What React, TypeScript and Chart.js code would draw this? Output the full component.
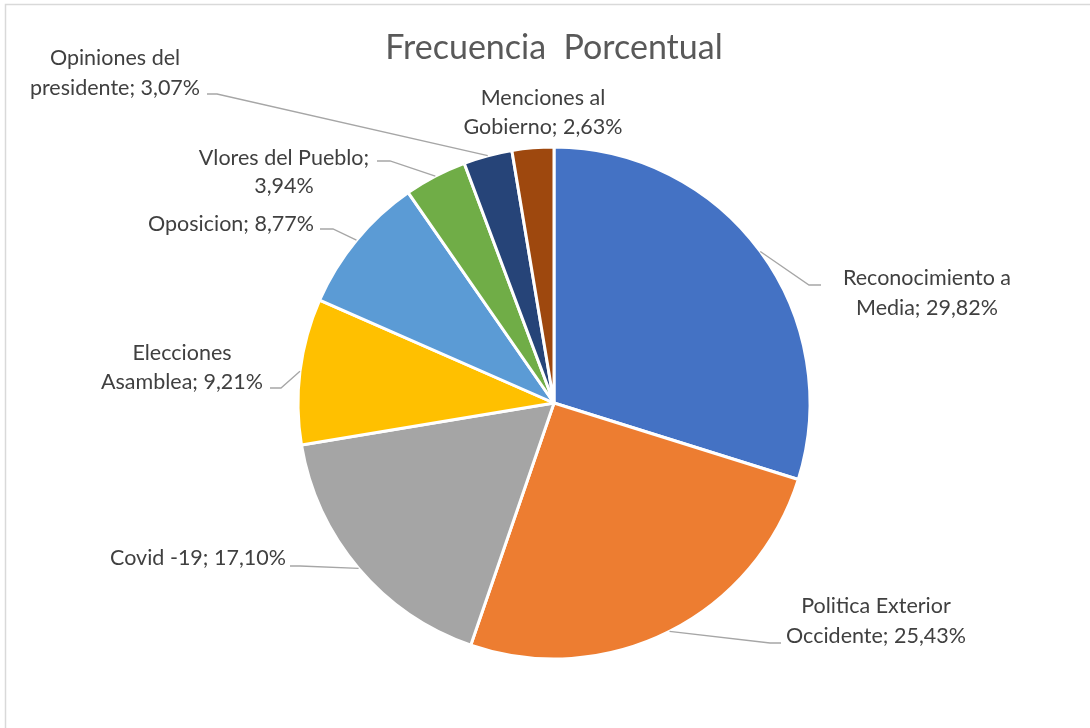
import React, { useEffect, useRef } from "react";
import { Chart, registerables } from "chart.js";

Chart.register(...registerables);

const categories: string[][] = [
  ["Reconocimiento a", "Media"],
  ["Politica Exterior", "Occidente"],
  ["Covid -19"],
  ["Elecciones", "Asamblea"],
  ["Oposicion"],
  ["Vlores del Pueblo;", ""],
  ["Opiniones del", "presidente"],
  ["Menciones al", "Gobierno"],
];
const values: number[] = [29.82, 25.43, 17.1, 9.21, 8.77, 3.94, 3.07, 2.63];
const colors: string[] = ["#4472C4", "#ED7D31", "#A5A5A5", "#FFC000", "#5B9BD5", "#70AD47", "#264478", "#9E480E"];
const titleText = "Frecuencia  Porcentual";

// label layout (text block line centres and leader stub), pixel layout only
const labelLayout = [
  { cx: 927, ys: [278, 308], stub: [821, 285, 809] },
  { cx: 876, ys: [606, 636], stub: [781, 643, 770] },
  { cx: 198, ys: [558], stub: [290, 566, 300] },
  { cx: 182, ys: [353, 382], stub: [270, 388, 281] },
  { cx: 231, ys: [224], stub: [320, 229, 333] },
  { cx: 284, ys: [158, 186], stub: [377, 161, 390] },
  { cx: 115, ys: [58, 88], stub: [207, 94, 217] },
  { cx: 543, ys: [98, 127], stub: null },
];

const fmt = (v: number) => v.toFixed(2).replace(".", ",") + "%";

function labelLines(i: number): string[] {
  const c = categories[i];
  const p = fmt(values[i]);
  if (c.length === 1) return [c[0] + "; " + p];
  if (c[1] === "") return [c[0], p];
  return [c[0], c[1] + "; " + p];
}

const FONT = "Lato, 'Open Sans', sans-serif";

const labelPlugin = {
  id: "excelLabels",
  beforeDraw(chart: any) {
    const ctx = chart.ctx;
    ctx.save();
    ctx.strokeStyle = "#D9D9D9";
    ctx.lineWidth = 1.5;
    ctx.strokeRect(5.5, 4.5, 1200, 800);
    ctx.restore();
  },
  afterDraw(chart: any) {
    const ctx = chart.ctx;
    const meta = chart.getDatasetMeta(0);
    ctx.save();
    // title
    ctx.fillStyle = "#595959";
    ctx.font = `34px ${FONT}`;
    ctx.textAlign = "center";
    ctx.textBaseline = "middle";
    ctx.fillText(titleText, 554, 48);

    meta.data.forEach((arc: any, i: number) => {
      const lay = labelLayout[i];
      const { x, y, startAngle, endAngle, outerRadius } = arc.getProps(
        ["x", "y", "startAngle", "endAngle", "outerRadius"],
        true
      );
      const mid = (startAngle + endAngle) / 2;
      const ax = x + Math.cos(mid) * outerRadius;
      const ay = y + Math.sin(mid) * outerRadius;
      if (lay.stub) {
        ctx.strokeStyle = "#A6A6A6";
        ctx.lineWidth = 1.3;
        ctx.beginPath();
        ctx.moveTo(lay.stub[0], lay.stub[1]);
        ctx.lineTo(lay.stub[2], lay.stub[1]);
        ctx.lineTo(ax, ay);
        ctx.stroke();
      }
      ctx.fillStyle = "#404040";
      ctx.font = `21.5px ${FONT}`;
      ctx.textAlign = "center";
      ctx.textBaseline = "middle";
      labelLines(i).forEach((t, k) => ctx.fillText(t, lay.cx, lay.ys[k]));
    });
    ctx.restore();
  },
};

export default function App() {
  const ref = useRef<HTMLCanvasElement | null>(null);
  useEffect(() => {
    if (!ref.current) return;
    const chart = new Chart(ref.current, {
      type: "pie",
      data: {
        labels: categories.map((c) => c.join(" ")),
        datasets: [
          {
            data: values,
            backgroundColor: colors,
            borderColor: "#FFFFFF",
            borderWidth: 3,
          },
        ],
      },
      options: {
        responsive: false,
        animation: false,
        devicePixelRatio: 1,
        radius: 256,
        layout: { padding: { left: 18, right: 0, top: 78, bottom: 0 } },
        plugins: {
          legend: { display: false },
          tooltip: { enabled: false },
          title: { display: false },
        },
      } as any,
      plugins: [labelPlugin],
    });
    return () => chart.destroy();
  }, []);
  return (
    <div style={{ position: "fixed", left: 0, top: 0, width: 1090, height: 728, background: "#fff" }}>
      <canvas ref={ref} width={1090} height={728} style={{ display: "block" }} />
    </div>
  );
}
